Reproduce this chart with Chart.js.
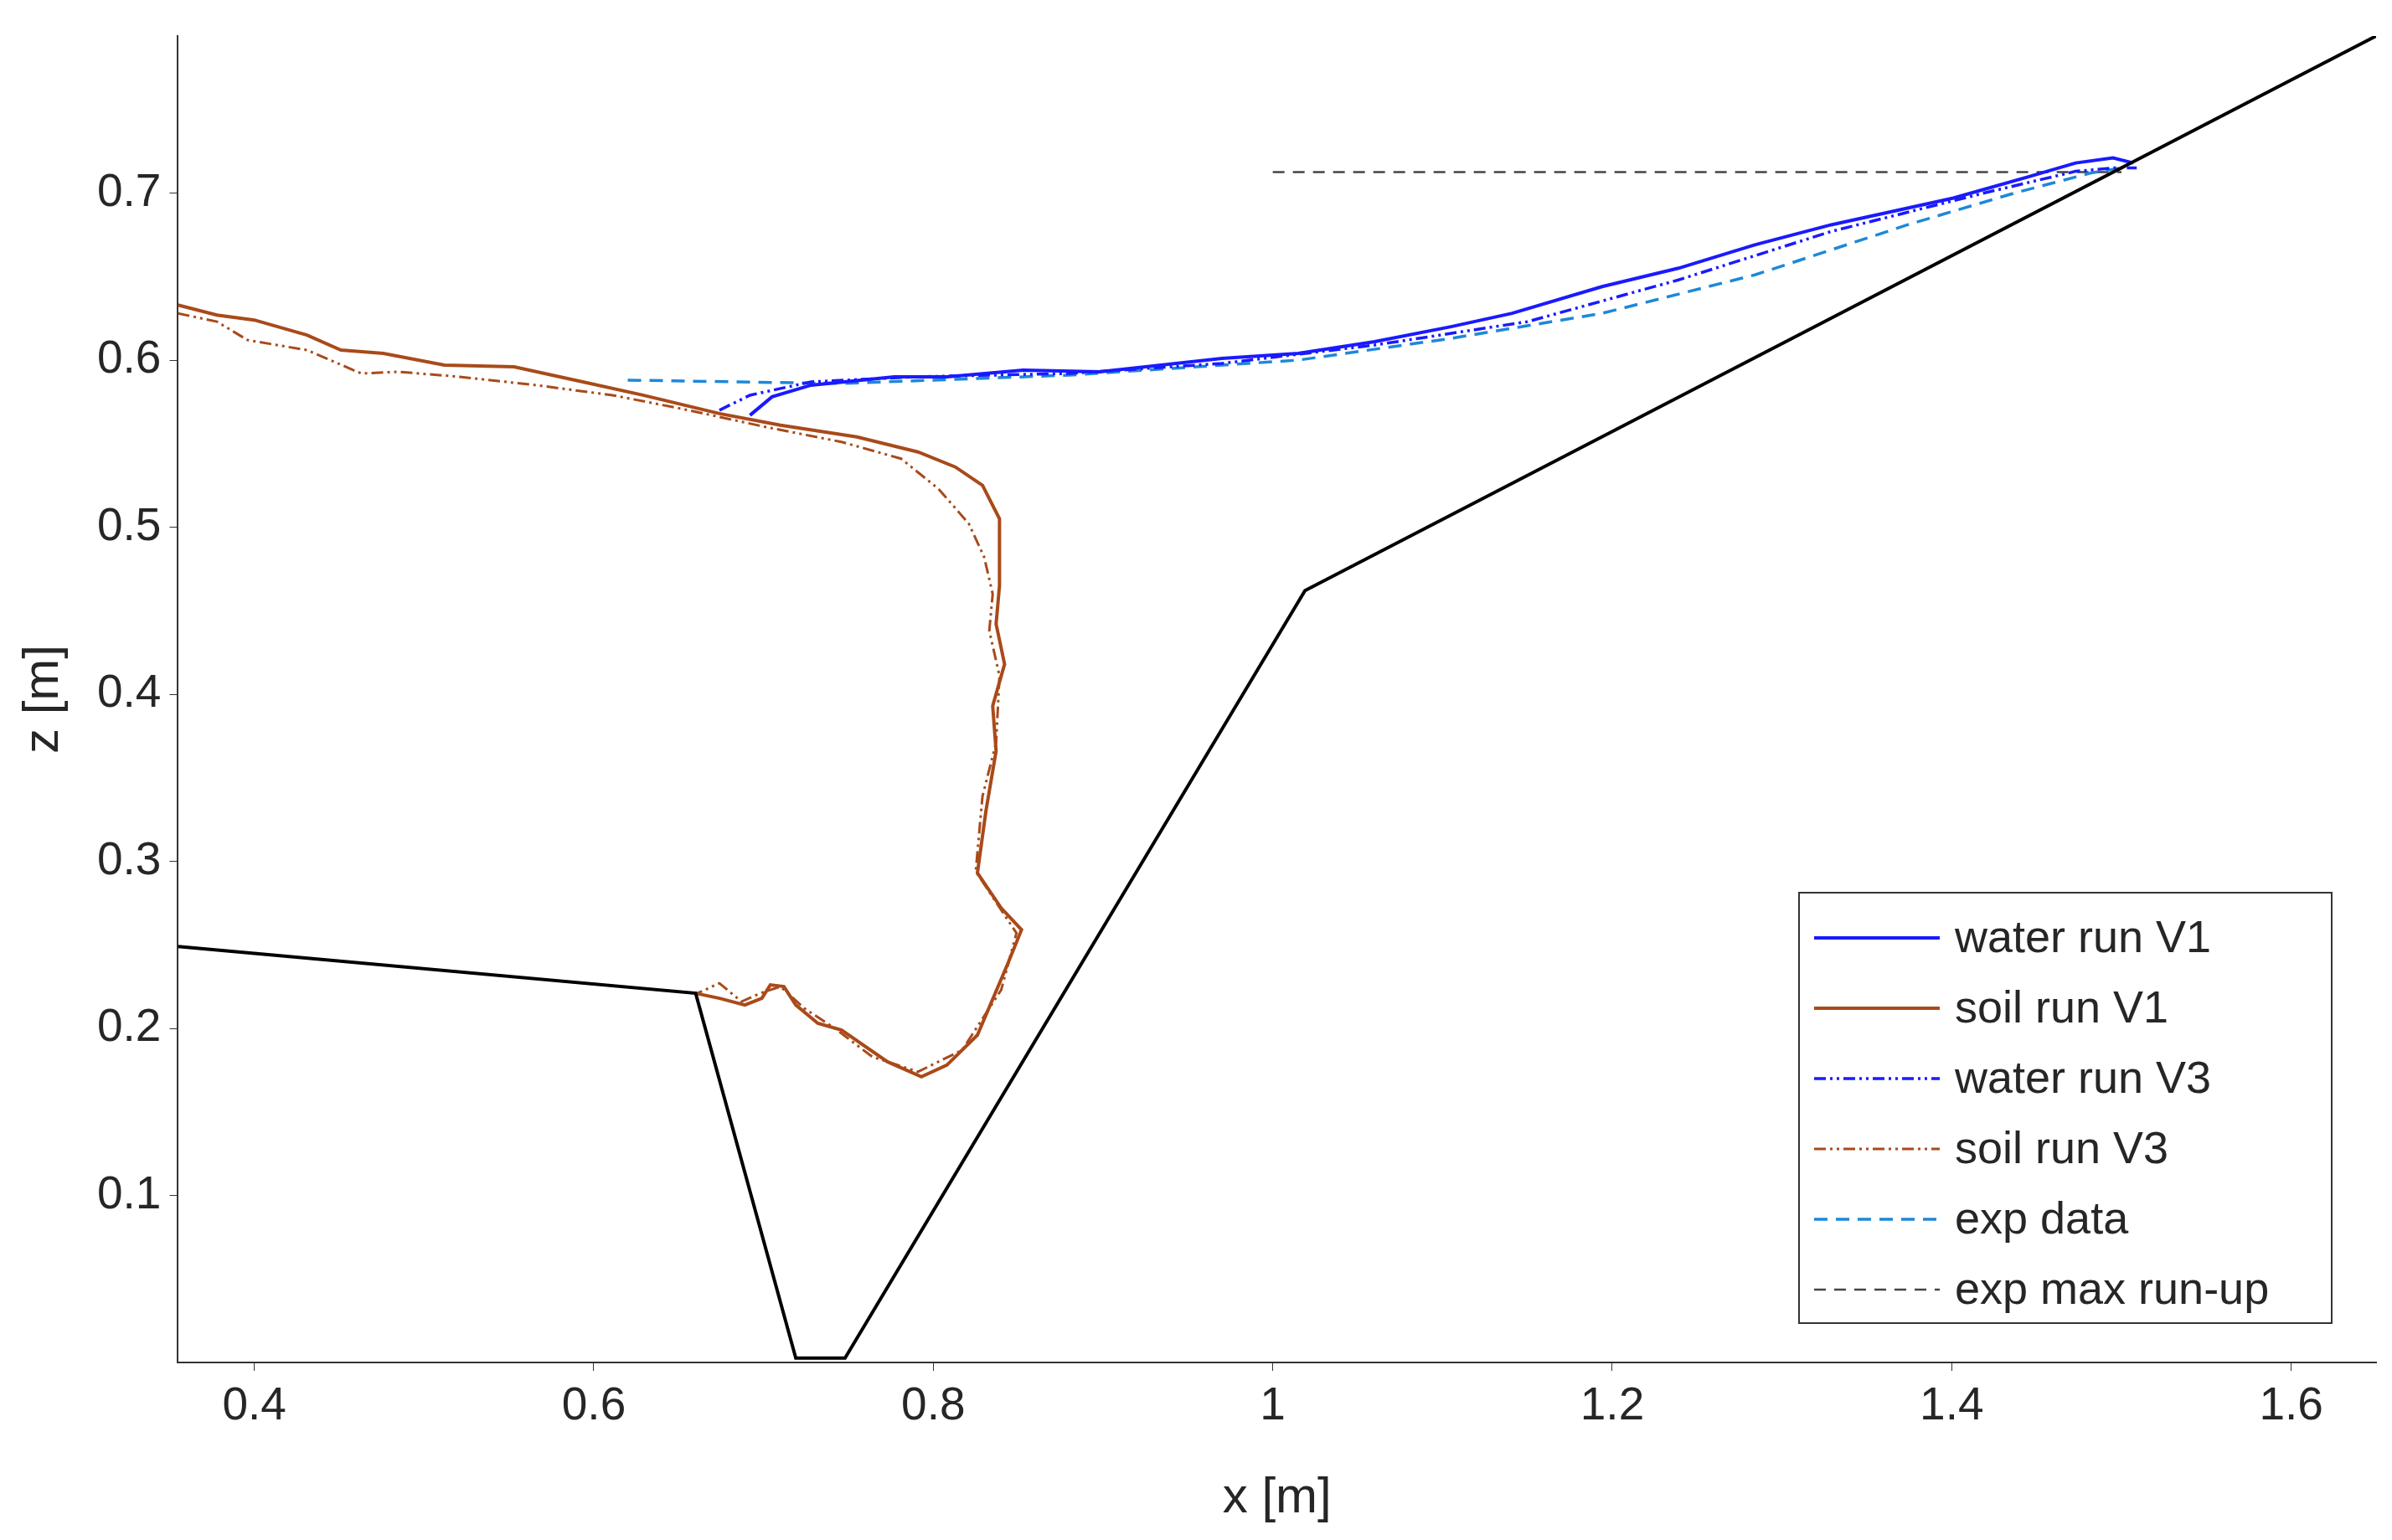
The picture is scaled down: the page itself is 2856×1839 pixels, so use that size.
<!DOCTYPE html>
<html><head><meta charset="utf-8">
<script src="https://cdn.jsdelivr.net/npm/chart.js@4/dist/chart.umd.min.js"></script>
<style>html,body{margin:0;padding:0;background:#fff}#w{width:2856px;height:1839px}</style>
</head><body><div id="w"><canvas id="c"></canvas></div>
<script>
const xTicks=[0.4,0.6,0.8,1.0,1.2,1.4,1.6];
const zTicks=[0.1,0.2,0.3,0.4,0.5,0.6,0.7];
const bedX=[0.355,0.660,0.719,0.748,1.019,1.650];
const bedZ=[0.249,0.221,0.0026,0.0026,0.462,0.794];
const maxRunX=[1.0,1.50];
const maxRunZ=[0.7125,0.7125];
const waterV1X=[0.692,0.705,0.728,0.777,0.808,0.853,0.898,0.970,1.015,1.060,1.105,1.141,1.194,1.239,1.284,1.329,1.401,1.446,1.473,1.495,1.507];
const waterV1Z=[0.567,0.578,0.585,0.590,0.590,0.594,0.593,0.601,0.604,0.611,0.620,0.628,0.644,0.655,0.669,0.681,0.697,0.710,0.718,0.721,0.718];
const waterV3X=[0.674,0.692,0.728,0.790,0.880,0.970,1.060,1.150,1.239,1.329,1.419,1.473,1.495,1.509];
const waterV3Z=[0.570,0.579,0.587,0.590,0.592,0.598,0.609,0.623,0.648,0.677,0.700,0.713,0.715,0.715];
const expX=[0.620,0.746,0.880,1.015,1.105,1.194,1.284,1.374,1.437,1.482,1.500];
const expZ=[0.588,0.586,0.591,0.600,0.613,0.628,0.651,0.681,0.700,0.712,0.715];
const soilV1X=[0.355,0.378,0.400,0.431,0.451,0.476,0.512,0.553,0.589,0.629,0.674,0.710,0.755,0.791,0.813,0.829,0.839,0.839,0.837,0.842,0.835,0.837,0.831,0.826,0.840,0.852,0.844,0.826,0.808,0.793,0.773,0.746,0.732,0.719,0.712,0.704,0.699,0.689,0.674,0.660];
const soilV1Z=[0.633,0.627,0.624,0.615,0.606,0.604,0.597,0.596,0.588,0.579,0.568,0.561,0.554,0.545,0.536,0.525,0.505,0.465,0.442,0.418,0.393,0.366,0.330,0.293,0.272,0.259,0.239,0.196,0.178,0.171,0.180,0.199,0.203,0.214,0.225,0.226,0.218,0.214,0.218,0.221];
const soilV3X=[0.355,0.378,0.396,0.431,0.463,0.485,0.521,0.566,0.611,0.656,0.701,0.746,0.781,0.803,0.821,0.830,0.835,0.833,0.839,0.837,0.829,0.825,0.836,0.849,0.840,0.817,0.791,0.764,0.742,0.724,0.710,0.698,0.687,0.674,0.661];
const soilV3Z=[0.628,0.623,0.612,0.606,0.592,0.593,0.590,0.585,0.579,0.570,0.560,0.551,0.541,0.523,0.502,0.482,0.460,0.438,0.411,0.371,0.339,0.294,0.277,0.257,0.223,0.187,0.174,0.183,0.200,0.212,0.225,0.221,0.216,0.227,0.221];
const pts=(xs,zs)=>xs.map((x,i)=>({x,y:zs[i]}));
const ds=(label,xs,zs,color,dash,w,leg)=>({label,data:pts(xs,zs),borderColor:color,borderDash:dash,borderWidth:w,pointRadius:0,showLine:true,fill:false,tension:0,leg});
const FONT='"Liberation Sans", Arial, sans-serif';
const datasets=[
 ds('bed',bedX,bedZ,'#000000',[],4,false),
 ds('water run V1',waterV1X,waterV1Z,'#1a1aff',[],4,true),
 ds('soil run V1',soilV1X,soilV1Z,'#a94a1a',[],4,true),
 ds('water run V3',waterV3X,waterV3Z,'#1a1aff',[14,5,3,5,3,5],3.5,true),
 ds('soil run V3',soilV3X,soilV3Z,'#a94a1a',[14,5,3,5,3,5],3,true),
 ds('exp data',expX,expZ,'#1e88d8',[16,10],3.5,true),
 ds('exp max run-up',maxRunX,maxRunZ,'#444444',[14,10],2.5,true)
];
const legendPlugin={id:'leg',afterDraw(ch){
 const c=ch.ctx;const items=ch.data.datasets.filter(d=>d.leg);
 const w=636,rowH=84,h=514;const x0=2148,y0=1066;
 c.save();c.fillStyle='#fff';c.fillRect(x0,y0,w,h);c.strokeStyle='#333';c.lineWidth=2;c.strokeRect(x0,y0,w,h);
 c.font='54px '+FONT;c.textBaseline='middle';
 items.forEach((d,i)=>{const y=y0+12+rowH*(i+0.5);
  c.strokeStyle=d.borderColor;c.lineWidth=d.borderWidth;c.setLineDash(d.borderDash);
  c.beginPath();c.moveTo(x0+18,y);c.lineTo(x0+168,y);c.stroke();c.setLineDash([]);
  c.fillStyle='#262626';c.fillText(d.label,x0+186,y+2);});
 c.restore();}};
new Chart(document.getElementById('c'),{type:'scatter',data:{datasets},plugins:[legendPlugin],
options:{responsive:true,maintainAspectRatio:false,animation:false,
 layout:{padding:{left:12,right:19,top:0,bottom:10}},
 plugins:{legend:{display:false},tooltip:{enabled:false}},
 scales:{
  x:{type:'linear',min:0.355,max:1.65,afterBuildTicks:s=>{s.ticks=xTicks.map(v=>({value:v}))},
   grid:{display:true,drawOnChartArea:false,tickLength:10,color:'#333'},border:{color:'#333',width:2},
   ticks:{color:'#262626',font:{size:55,family:FONT},padding:10,callback:v=>String(+v.toFixed(1))},
   title:{display:true,text:'x [m]',color:'#262626',font:{size:60,family:FONT},padding:{top:30}}},
  y:{type:'linear',min:0,max:0.794,afterBuildTicks:s=>{s.ticks=zTicks.map(v=>({value:v}))},
   grid:{display:true,drawOnChartArea:false,tickLength:10,color:'#333'},border:{color:'#333',width:2},
   ticks:{color:'#262626',font:{size:55,family:FONT},padding:10,callback:v=>String(+v.toFixed(1))},
   title:{display:true,text:'z [m]',color:'#262626',font:{size:60,family:FONT},padding:{bottom:18}}}
 }}});
</script></body></html>
